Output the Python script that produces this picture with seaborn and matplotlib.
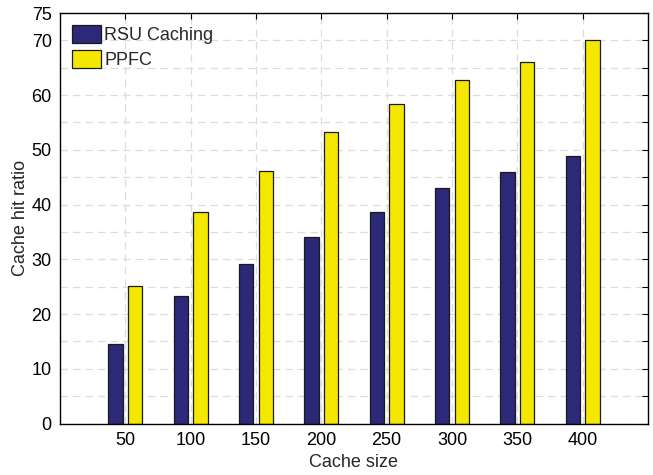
import matplotlib
matplotlib.use("Agg")
import matplotlib.pyplot as plt
import pandas as pd
import seaborn as sns

# values
cache_sizes = ["50", "100", "150", "200", "250", "300", "350", "400"]
rsu_caching = [14.6, 23.3, 29.2, 34.1, 38.7, 43.0, 45.9, 48.9]
ppfc = [25.2, 38.6, 46.2, 53.3, 58.3, 62.7, 66.1, 70.0]
series_names = ["RSU Caching", "PPFC"]
y_ticks = list(range(0, 80, 5))
y_ticklabels = ["0", "", "10", "", "20", "", "30", "", "40", "", "50", "", "60", "", "70", "75"]

df = pd.DataFrame({
    "size": cache_sizes * 2,
    "ratio": rsu_caching + ppfc,
    "method": [series_names[0]] * len(cache_sizes) + [series_names[1]] * len(cache_sizes),
})

sns.set_style("white")
plt.rcParams["font.family"] = ["Liberation Sans", "DejaVu Sans"]
plt.rcParams["font.size"] = 13

fig = plt.figure(figsize=(6.53, 4.75), dpi=100)
ax = fig.add_axes([0.0919, 0.1084, 0.9004, 0.8642])

sns.barplot(data=df, x="size", y="ratio", hue="method", order=cache_sizes,
            hue_order=series_names, palette=["#2c2a78", "#f4e800"],
            width=0.6, gap=0.27, edgecolor="#1a1a1a", linewidth=0.9,
            saturation=1, ax=ax)

# grid on both axes (seaborn turns off the categorical one)
ax.grid(True, axis="both", linestyle=(0, (6, 4)), color="#dcdcdc", linewidth=0.9)
ax.set_axisbelow(True)

ax.set_xlim(-1, 8)
ax.set_ylim(0, 75)
ax.set_yticks(y_ticks)
ax.set_yticklabels(y_ticklabels)
ax.tick_params(direction="in", top=True, right=True, length=4, width=0.8,
               labelsize=13, colors="black", pad=6)
for s in ax.spines.values():
    s.set_visible(True)
    s.set_color("black")
    s.set_linewidth(1.0)

ax.set_xlabel("Cache size", fontsize=13, labelpad=4)
ax.set_ylabel("Cache hit ratio", fontsize=13, labelpad=2)

leg = ax.legend(loc="upper left", frameon=False, fontsize=13,
                handlelength=1.6, handleheight=1.2, handletextpad=0.2,
                labelspacing=0.3, borderaxespad=0.35, borderpad=0.3)

fig.savefig("out.png", dpi=100)
